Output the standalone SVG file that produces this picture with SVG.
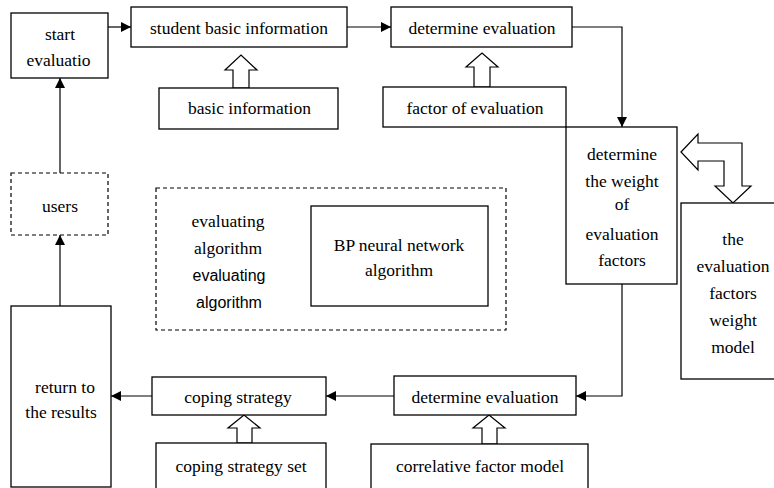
<svg xmlns="http://www.w3.org/2000/svg" width="774" height="488" viewBox="0 0 774 488">
<style>
.b{fill:#fff;stroke:#000;stroke-width:1.3}
.d{fill:none;stroke:#000;stroke-width:1.2;stroke-dasharray:4,3}
text{font-family:'Liberation Serif','DejaVu Serif',serif;font-size:17.5px;fill:#000;text-anchor:middle}
text.s{font-family:'Liberation Sans','DejaVu Sans',sans-serif;font-size:16px}
.c{fill:none;stroke:#000;stroke-width:1.2}
.h{fill:#fff;stroke:#000;stroke-width:1.2}
</style>
<defs>
<marker id="a" viewBox="0 0 10 10" refX="10" refY="5" markerWidth="10" markerHeight="10" markerUnits="userSpaceOnUse" orient="auto">
<path d="M0,0 L10,5 L0,10 z" fill="#000"/>
</marker>
</defs>
<g id="connectors">
<path class="c" d="M108,27 H131" marker-end="url(#a)"/>
<path class="c" d="M347,27 H391" marker-end="url(#a)"/>
<path class="c" d="M572,27 H622 V127" marker-end="url(#a)"/>
<path class="c" d="M622,284 V396 H576" marker-end="url(#a)"/>
<path class="c" d="M394,396 H326" marker-end="url(#a)"/>
<path class="c" d="M152,396 H111" marker-end="url(#a)"/>
<path class="c" d="M60,306 V235" marker-end="url(#a)"/>
<path class="c" d="M60,173 V78" marker-end="url(#a)"/>
<polygon class="h" points="233,88 233,70 225,70 241,55 257,70 249,70 249,88"/>
<polygon class="h" points="474,87 474,67 466,67 482,53 498,67 490,67 490,87"/>
<polygon class="h" points="237,443 237,428 228,428 244,415 260,428 252,428 252,443"/>
<polygon class="h" points="482,444 482,428 473,428 489,415 505,428 497,428 497,444"/>
<polygon class="h" points="681,152 698,134 698,143 742,143 742,186 751,186 733,203 715,186 724,186 724,161 698,161 698,170"/>
</g>
<g id="start"><rect class="b" x="11" y="13" width="97" height="65"/><text x="60" y="40">start</text><text x="58.5" y="66">evaluatio</text></g>
<g id="student"><rect class="b" x="131" y="7" width="216" height="40"/><text x="239" y="34">student basic information</text></g>
<g id="basic"><rect class="b" x="159" y="88" width="179" height="41"/><text x="249.5" y="114">basic information</text></g>
<g id="determine1"><rect class="b" x="391" y="7" width="181" height="40"/><text x="482" y="34">determine evaluation</text></g>
<g id="factor"><rect class="b" x="383" y="87" width="183" height="40"/><text x="475" y="114">factor of evaluation</text></g>
<g id="weight"><rect class="b" x="566" y="127" width="111" height="157"/>
<text x="622" y="160">determine</text><text x="622" y="187">the weight</text><text x="622" y="210">of</text><text x="622" y="240">evaluation</text><text x="622" y="266">factors</text></g>
<g id="model"><rect class="b" x="681" y="203" width="96" height="176"/>
<text x="733" y="245">the</text><text x="733" y="272">evaluation</text><text x="733" y="299">factors</text><text x="733" y="326">weight</text><text x="733" y="353">model</text></g>
<g id="users"><rect class="d" x="11" y="173" width="97" height="62"/><text x="60" y="212">users</text></g>
<g id="algorithm"><rect class="d" x="156" y="188" width="350" height="142"/>
<text x="228" y="227">evaluating</text><text x="228" y="254">algorithm</text>
<text class="s" x="229" y="281">evaluating</text><text class="s" x="229" y="308">algorithm</text>
<g id="bp"><rect class="b" x="311" y="206" width="177" height="100"/><text x="399" y="251">BP neural network</text><text x="399" y="276">algorithm</text></g></g>
<g id="return"><rect class="b" x="11" y="306" width="100" height="181"/><text x="65" y="393">return to</text><text x="61" y="418">the results</text></g>
<g id="coping"><rect class="b" x="152" y="377" width="174" height="38"/><text x="238" y="403">coping strategy</text></g>
<g id="determine2"><rect class="b" x="394" y="376" width="182" height="39"/><text x="485" y="403">determine evaluation</text></g>
<g id="copingset"><rect class="b" x="156" y="443" width="170" height="50"/><text x="241" y="472">coping strategy set</text></g>
<g id="correlative"><rect class="b" x="371" y="444" width="217" height="50"/><text x="480" y="472">correlative factor model</text></g>
</svg>
